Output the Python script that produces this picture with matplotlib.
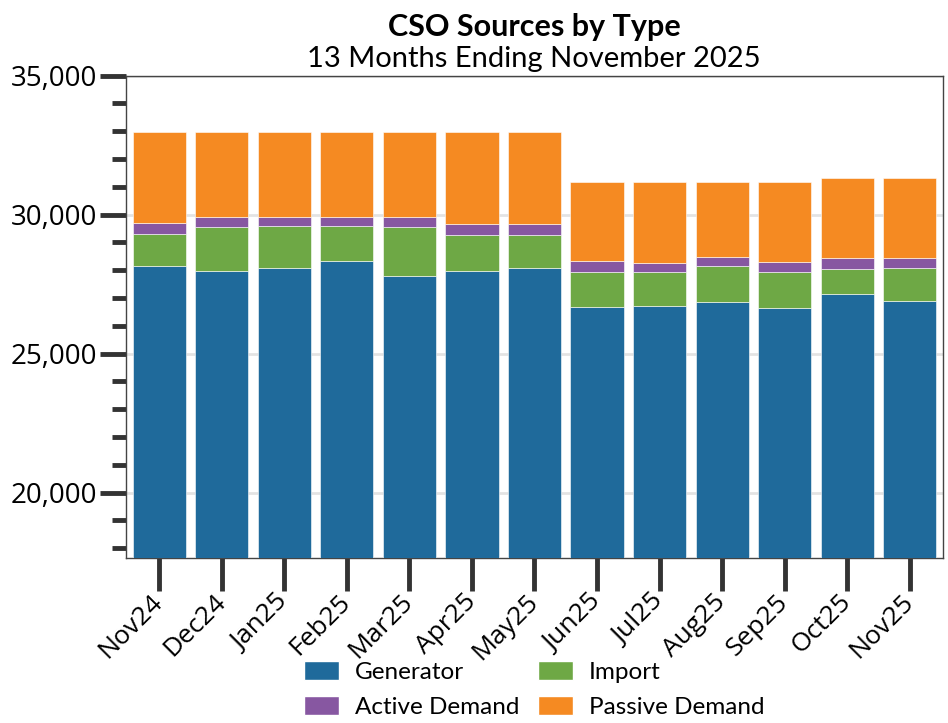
import matplotlib
matplotlib.use("Agg")
import matplotlib.pyplot as plt
import numpy as np
from matplotlib.ticker import MultipleLocator, FuncFormatter
from matplotlib.patches import Patch

plt.rcParams['font.family'] = ['Open Sans', 'DejaVu Sans']

months = ["Nov24", "Dec24", "Jan25", "Feb25", "Mar25", "Apr25", "May25",
          "Jun25", "Jul25", "Aug25", "Sep25", "Oct25", "Nov25"]
generator = [28140, 27960, 28095, 28325, 27805, 27985, 28085,
             26690, 26715, 26860, 26645, 27160, 26885]
imports = [1180, 1605, 1490, 1270, 1765, 1295, 1195,
           1240, 1215, 1295, 1285, 900, 1200]
active_demand = [395, 360, 335, 325, 340, 385, 385,
                 405, 345, 335, 380, 385, 360]
passive_demand = [3265, 3060, 3065, 3065, 3075, 3300, 3300,
                  2840, 2900, 2685, 2855, 2865, 2865]

series = [("Generator", generator, "#1f6a9b"),
          ("Import", imports, "#6ea845"),
          ("Active Demand", active_demand, "#8757a1"),
          ("Passive Demand", passive_demand, "#f58a22")]

fig = plt.figure(figsize=(9.48, 7.23), dpi=100)
ax = fig.add_axes([0.1329, 0.2282, 0.8618, 0.6671])

x = np.arange(len(months))
bottom = np.zeros(len(months))
for name, vals, color in series:
    vals = np.asarray(vals, dtype=float)
    ax.bar(x, vals, width=0.85, bottom=bottom, color=color,
           edgecolor="#ffffff", linewidth=0.4, zorder=3)
    bottom += vals

ax.set_ylim(17650, 35000)
ax.set_xlim(-0.53, len(months) - 0.47)
ax.yaxis.set_major_locator(MultipleLocator(5000))
ax.yaxis.set_minor_locator(MultipleLocator(1000))
ax.yaxis.set_major_formatter(FuncFormatter(lambda v, p: f"{int(v):,}"))
ax.set_xticks(x)
ax.set_xticklabels(months, rotation=45, ha="right", va="center",
                   rotation_mode="anchor")

ax.grid(axis="y", which="major", color="#e3e3e3", linewidth=2, zorder=0)
for s in ax.spines.values():
    s.set_color("#444444")
    s.set_linewidth(1.0)

ax.tick_params(axis="y", which="major", length=19, width=3.5, color="#333333",
               labelsize=20, pad=2)
ax.tick_params(axis="y", which="minor", length=10, width=3.5, color="#333333")
ax.tick_params(axis="x", which="major", length=24, width=3.5, color="#333333",
               labelsize=19, pad=5)

fig.text(0.5636, 0.963, "CSO Sources by Type", ha="center", va="center",
         fontsize=22, fontweight="bold", family=["Lato", "DejaVu Sans"])
fig.text(0.5636, 0.918, "13 Months Ending November 2025", ha="center",
         va="center", fontsize=21, family=["Lato", "DejaVu Sans"])

handles = [Patch(facecolor=c, edgecolor="#ffffff", label=n) for n, _, c in series]
order = [0, 2, 1, 3]
fig.legend([handles[i] for i in order], [series[i][0] for i in order],
           ncol=2, loc="center", bbox_to_anchor=(0.5636, 0.046),
           frameon=False, prop={"family": ["Lato", "DejaVu Sans"], "size": 17.5},
           handlelength=1.45, handleheight=0.8,
           columnspacing=0.75, handletextpad=0.65, labelspacing=0.55)

fig.savefig("out.png", dpi=100)
